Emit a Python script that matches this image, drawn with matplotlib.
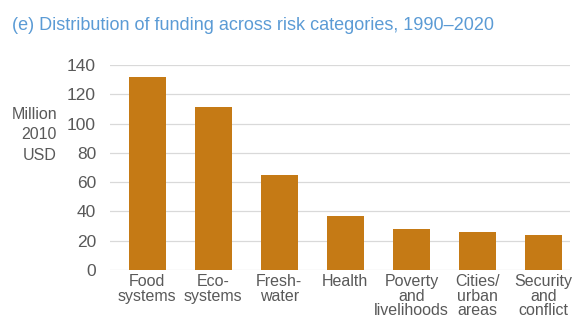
import matplotlib.pyplot as plt
import numpy as np

categories = ["Food\nsystems", "Eco-\nsystems", "Fresh-\nwater", "Health",
              "Poverty\nand\nlivelihoods", "Cities/\nurban\nareas", "Security\nand\nconflict"]
funding = [132, 111, 65, 37, 28, 26, 24]
yticks = [0, 20, 40, 60, 80, 100, 120, 140]

plt.rcParams['font.family'] = ['Liberation Sans', 'DejaVu Sans']

fig = plt.figure(figsize=(5.82, 3.21), dpi=100)
ax = fig.add_axes([110/582, 1-270/321, 460/582, 205/321])

x = np.arange(len(categories))
ax.bar(x, funding, width=0.56, color='#C57A15', zorder=3)

ax.set_ylim(0, 140)
ax.set_xlim(-0.56, 6.4)
ax.set_yticks(yticks)
ax.set_xticks(x)
ax.set_xticklabels(categories, linespacing=0.95)
ax.yaxis.grid(True, color='#D9D9D9', linewidth=0.9, zorder=0)
for s in ax.spines.values():
    s.set_visible(False)
ax.tick_params(axis='both', length=0, colors='#595959', labelsize=11.5)
ax.tick_params(axis='y', labelsize=12.5, pad=10)
ax.tick_params(axis='x', pad=3)

fig.text(57/582, 1-135/321, "Million\n2010\nUSD", ha='right', va='center',
         fontsize=11.5, color='#595959', linespacing=1.45)
fig.text(12/582, 1-25/321, "(e) Distribution of funding across risk categories, 1990\u20132020",
         ha='left', va='center', fontsize=13, color='#5B9BD5')

fig.savefig('out.png', dpi=100)
